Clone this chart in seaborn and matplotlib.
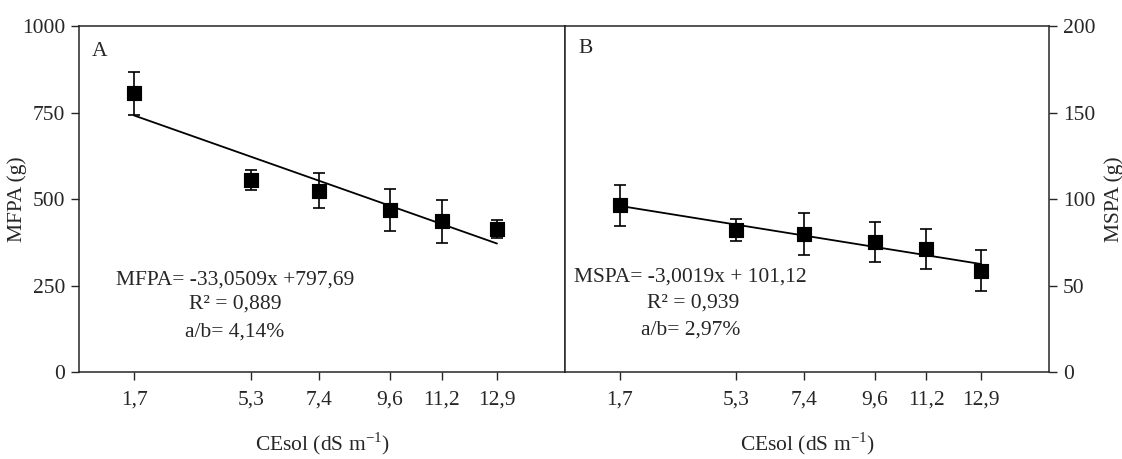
import numpy as np
import pandas as pd
import seaborn as sns
import matplotlib
matplotlib.use("Agg")
import matplotlib.pyplot as plt

# salinity levels (CEsol, dS m-1)
cesol = [1.7, 5.3, 7.4, 9.6, 11.2, 12.9]
cesol_labels = ["1,7", "5,3", "7,4", "9,6", "11,2", "12,9"]

# A - fresh mass (MFPA, g)
mfpa = [805, 555, 524, 468, 436, 412]
mfpa_err = [63, 28, 50, 60, 62, 26]
mfpa_coef = [-33.0509, 797.69]

# B - dry mass (MSPA, g)
mspa = [96.3, 82.0, 79.8, 75.0, 71.0, 58.6]
mspa_err = [12.0, 6.5, 12.3, 11.5, 11.7, 11.8]
mspa_coef = [-3.0019, 101.12]

sns.set_style("ticks")
plt.rcParams["font.family"] = ["Liberation Serif", "DejaVu Serif"]
plt.rcParams["font.size"] = 15.5

FS = 15.5

fig = plt.figure(figsize=(11.22, 4.59), dpi=100)
ax1 = fig.add_axes([0.0704, 0.1895, 0.4332, 0.7538])
ax2 = fig.add_axes([0.5036, 0.1895, 0.4314, 0.7538])


def panel(ax, y, err, coef, ylim, yticks):
    df = pd.DataFrame({"x": cesol, "y": y})
    # fitted line from the regression coefficients
    xf = np.array([cesol[0], cesol[-1]])
    fit = pd.DataFrame({"x": xf, "y": coef[0] * xf + coef[1]})
    sns.lineplot(data=fit, x="x", y="y", ax=ax, color="black", lw=1.3)
    ax.errorbar(cesol, y, yerr=err, fmt="none", ecolor="black",
                elinewidth=1.2, capsize=4.5, capthick=1.2, zorder=3)
    sns.scatterplot(data=df, x="x", y="y", ax=ax, marker="s", s=105,
                    color="black", edgecolor="black", zorder=4)
    ax.set_xlim(0, 15)
    ax.set_ylim(*ylim)
    ax.set_xticks(cesol)
    ax.set_xticklabels(cesol_labels)
    ax.set_yticks(yticks)
    ax.tick_params(direction="out", length=6, width=1, labelsize=FS)
    ax.tick_params(axis="x", pad=7)
    ax.tick_params(axis="y", pad=4)
    for s in ax.spines.values():
        s.set_visible(True)
        s.set_linewidth(1.1)
    ax.set_xlabel("CEsol (dS m$^{\\mathregular{-1}}$)", fontsize=FS,
                  labelpad=15)


panel(ax1, mfpa, mfpa_err, mfpa_coef, (0, 1000), [0, 250, 500, 750, 1000])
ax1.set_ylabel("MFPA (g)", fontsize=FS)
ax1.yaxis.set_label_coords(-0.107, 0.5)
ax1.text(0.043, 0.925, "A", transform=ax1.transAxes, fontsize=FS,
         ha="center", va="center")
ax1.text(0.321, 0.266, "MFPA= -33,0509x +797,69", transform=ax1.transAxes,
         fontsize=FS, ha="center", va="center")
ax1.text(0.321, 0.197, "R² = 0,889", transform=ax1.transAxes,
         fontsize=FS, ha="center", va="center")
ax1.text(0.321, 0.116, "a/b= 4,14%", transform=ax1.transAxes,
         fontsize=FS, ha="center", va="center")

panel(ax2, mspa, mspa_err, mspa_coef, (0, 200), [0, 50, 100, 150, 200])
ax2.yaxis.tick_right()
ax2.yaxis.set_label_position("right")
ax2.set_ylabel("MSPA (g)", fontsize=FS, labelpad=6)
ax2.text(0.043, 0.936, "B", transform=ax2.transAxes, fontsize=FS,
         ha="center", va="center")
ax2.text(0.258, 0.275, "MSPA= -3,0019x + 101,12", transform=ax2.transAxes,
         fontsize=FS, ha="center", va="center")
ax2.text(0.264, 0.199, "R² = 0,939", transform=ax2.transAxes,
         fontsize=FS, ha="center", va="center")
ax2.text(0.26, 0.121, "a/b= 2,97%", transform=ax2.transAxes,
         fontsize=FS, ha="center", va="center")

fig.savefig("out.png", dpi=100)
